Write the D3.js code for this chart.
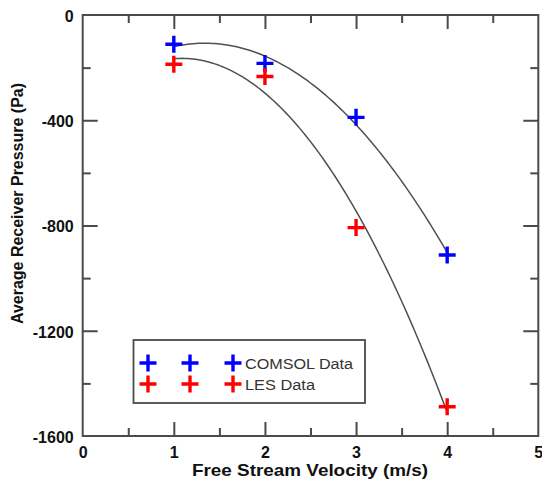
<!DOCTYPE html>
<html>
<head>
<meta charset="utf-8">
<script src="https://cdn.jsdelivr.net/npm/d3@7"></script>
<style>
  html, body { margin: 0; padding: 0; background: #fff; }
  svg { display: block; }
</style>
</head>
<body>
<svg id="chart" width="542" height="482"></svg>
<script>
// ---- data ----
const velocity = [1, 2, 3, 4];
const comsolData = [-111, -184, -389, -912];
const lesData = [-187, -234, -808, -1489];
const xTickValues = [0, 1, 2, 3, 4, 5];
const yTickValues = [0, -400, -800, -1200, -1600];
const seriesNames = ["COMSOL Data", "LES Data"];
const seriesColors = ["#0000ff", "#ff0000"];

// ---- layout ----
const svg = d3.select("#chart");
const x = d3.scaleLinear().domain([0, 5]).range([82.7, 538.3]);
const y = d3.scaleLinear().domain([0, -1600]).range([15, 436]);
const axisColor = "#4a4a4a";

// quadratic least-squares fit (trend line)
function quadFit(xs, ys) {
  let n = xs.length, sx = 0, sx2 = 0, sx3 = 0, sx4 = 0, sy = 0, sxy = 0, sx2y = 0;
  for (let i = 0; i < n; i++) {
    const a = xs[i], b = ys[i];
    sx += a; sx2 += a * a; sx3 += a * a * a; sx4 += a * a * a * a;
    sy += b; sxy += a * b; sx2y += a * a * b;
  }
  const M = [[n, sx, sx2, sy], [sx, sx2, sx3, sxy], [sx2, sx3, sx4, sx2y]];
  for (let i = 0; i < 3; i++) {
    for (let k = i + 1; k < 3; k++) {
      const f = M[k][i] / M[i][i];
      for (let j = i; j < 4; j++) M[k][j] -= f * M[i][j];
    }
  }
  const c = [0, 0, 0];
  for (let i = 2; i >= 0; i--) {
    let s = M[i][3];
    for (let j = i + 1; j < 3; j++) s -= M[i][j] * c[j];
    c[i] = s / M[i][i];
  }
  return v => c[0] + c[1] * v + c[2] * v * v;
}

// ---- fit curves ----
const line = d3.line().x(d => x(d[0])).y(d => y(d[1]));
[comsolData, lesData].forEach(ys => {
  const f = quadFit(velocity, ys);
  const pts = d3.range(0, 101).map(i => {
    const v = 1 + 3 * i / 100;
    return [v, f(v)];
  });
  svg.append("path").attr("d", line(pts))
    .attr("fill", "none").attr("stroke", "#505050").attr("stroke-width", 1.5);
});

// ---- frame & ticks ----
const g = svg.append("g");
function axisTicks(axis, len) {
  return axis.tickSizeInner(len).tickSizeOuter(0).tickFormat("");
}
const xMajor = [1, 2, 3, 4];
const xMinor = [0.5, 1.5, 2.5, 3.5, 4.5];
const yMajor = [-400, -800, -1200];
const yMinor = [-200, -600, -1000, -1400];

function drawAxis(axisGen, transform) {
  const a = g.append("g").attr("transform", transform).call(axisGen);
  a.select(".domain").remove();
  a.selectAll("line").attr("stroke", axisColor).attr("stroke-width", 2);
}
drawAxis(axisTicks(d3.axisTop(x).tickValues(xMajor), 14), `translate(0,${y(-1600)})`);
drawAxis(axisTicks(d3.axisTop(x).tickValues(xMinor), 8), `translate(0,${y(-1600)})`);
drawAxis(axisTicks(d3.axisBottom(x).tickValues(xMajor), 14), `translate(0,${y(0)})`);
drawAxis(axisTicks(d3.axisBottom(x).tickValues(xMinor), 8), `translate(0,${y(0)})`);
drawAxis(axisTicks(d3.axisRight(y).tickValues(yMajor), 15), `translate(${x(0)},0)`);
drawAxis(axisTicks(d3.axisRight(y).tickValues(yMinor), 8), `translate(${x(0)},0)`);
drawAxis(axisTicks(d3.axisLeft(y).tickValues(yMajor), 15), `translate(${x(5)},0)`);
drawAxis(axisTicks(d3.axisLeft(y).tickValues(yMinor), 8), `translate(${x(5)},0)`);

g.append("rect")
  .attr("x", x(0)).attr("y", y(0))
  .attr("width", x(5) - x(0)).attr("height", y(-1600) - y(0))
  .attr("fill", "none").attr("stroke", axisColor).attr("stroke-width", 2);

// ---- tick labels ----
const labelFont = "'Liberation Sans', Arial, sans-serif";
const xl = svg.append("g").attr("transform", `translate(0,${y(-1600)})`)
  .call(d3.axisBottom(x).tickValues(xTickValues).tickSize(0).tickPadding(0).tickFormat(d3.format("d")));
xl.select(".domain").remove();
xl.selectAll("text").attr("dy", null).attr("y", 22)
  .attr("font-family", labelFont).attr("font-size", 16).attr("font-weight", "bold").attr("fill", "#111");

const yl = svg.append("g").attr("transform", `translate(${x(0)},0)`)
  .call(d3.axisLeft(y).tickValues(yTickValues).tickSize(0).tickPadding(9).tickFormat(d => String(d)));
yl.select(".domain").remove();
yl.selectAll("text").attr("dy", "0.4em")
  .attr("font-family", labelFont).attr("font-size", 16).attr("font-weight", "bold").attr("fill", "#111");

// ---- axis titles ----
svg.append("text").attr("x", 310).attr("y", 476)
  .attr("text-anchor", "middle").attr("font-family", labelFont)
  .attr("font-size", 16.5).attr("font-weight", "bold").attr("fill", "#111")
  .attr("textLength", 236).attr("lengthAdjust", "spacingAndGlyphs")
  .text("Free Stream Velocity (m/s)");

svg.append("text").attr("transform", "translate(23,203.5) rotate(-90)")
  .attr("text-anchor", "middle").attr("font-family", labelFont)
  .attr("font-size", 16).attr("font-weight", "bold").attr("fill", "#111")
  .attr("textLength", 241).attr("lengthAdjust", "spacingAndGlyphs")
  .text("Average Receiver Pressure (Pa)");

// ---- markers ----
function cross(sel, cx, cy, color) {
  const s = 8.5;
  sel.append("path")
    .attr("d", `M${cx - s},${cy}H${cx + s}M${cx},${cy - s}V${cy + s}`)
    .attr("stroke", color).attr("stroke-width", 3.4).attr("fill", "none");
}
const markers = svg.append("g");
[comsolData, lesData].forEach((ys, si) => {
  velocity.forEach((v, i) => cross(markers, x(v), y(ys[i]), seriesColors[si]));
});

// ---- legend ----
const lg = svg.append("g");
lg.append("rect").attr("x", 133.5).attr("y", 340).attr("width", 231.5).attr("height", 63)
  .attr("fill", "#fff").attr("stroke", axisColor).attr("stroke-width", 1.8);
const rowY = [363, 384];
const crossX = [148, 190, 233];
const legendTextLen = [108, 70];
seriesNames.forEach((name, si) => {
  crossX.forEach(cx => cross(lg, cx, rowY[si], seriesColors[si]));
  lg.append("text").attr("x", 245).attr("y", rowY[si] + 5.5)
    .attr("font-family", labelFont).attr("font-size", 15.5).attr("fill", "#333")
    .attr("textLength", legendTextLen[si]).attr("lengthAdjust", "spacingAndGlyphs")
    .text(name);
});
</script>
</body>
</html>
